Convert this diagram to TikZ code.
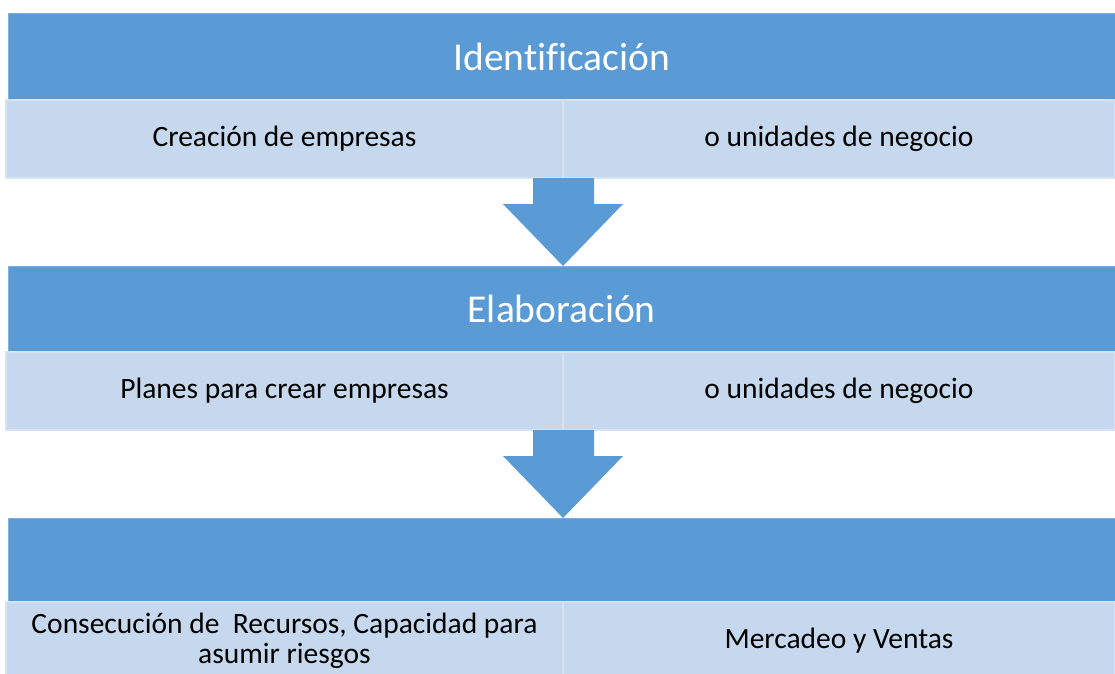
\documentclass[tikz,border=0pt]{standalone}
\usepackage{fontspec}
\setmainfont{Carlito}[Ligatures=CommonOff]
\usepackage{tikz}
\usetikzlibrary{calc}
\definecolor{headblue}{HTML}{5B9BD5}
\definecolor{rowblue}{HTML}{C5D8EE}
\definecolor{rowline}{HTML}{D6E3F3}

\tikzset{
  header/.style={fill=headblue, draw=headblue!80!white, line width=0.6pt, inner sep=0pt, outer sep=0pt,
    anchor=north west, minimum width=1106.5pt, minimum height=86.5pt, text=white,
    font=\fontsize{39.5}{46}\selectfont},
  cell/.style={fill=rowblue, draw=rowline, line width=1.2pt, inner sep=0pt, outer sep=0pt,
    anchor=north west, minimum height=78pt, align=center,
    font=\fontsize{29.5}{30}\selectfont},
  arrowfill/.style={fill=headblue}
}

% down arrow below a row, tip on the next header
\newcommand{\flecha}[2]{%
  \path[arrowfill] ([xshift=-30pt]#1) -- ([xshift=31pt]#1)
    -- ([xshift=31pt,yshift=-26pt]#1) -- ([xshift=60pt,yshift=-26pt]#1)
    -- (#2 -| #1) -- ([xshift=-60pt,yshift=-26pt]#1)
    -- ([xshift=-30pt,yshift=-26pt]#1) -- cycle;}

\begin{document}
\begin{tikzpicture}[x=1pt, y=-1pt]

        \useasboundingbox (0,0) rectangle (1115,673);
        \clip (0,0) rectangle (1115,673);

        % Identificacion
        \node[header] (h1) at (8.5,13.5) {Identificación};
        \node[cell, minimum width=557pt] (c1a) at (6,100) {Creación de empresas};
        \node[cell, minimum width=552pt] (c1b) at (563,100) {o unidades de negocio};

        % Elaboracion
        \node[header] (h2) at (8.5,266) {Elaboración};
        \node[cell, minimum width=557pt] (c2a) at (6,352) {Planes para crear empresas};
        \node[cell, minimum width=552pt] (c2b) at (563,352) {o unidades de negocio};

        % Third step
        \node[header] (h3) at (8.5,518) {};
        \node[cell, minimum width=557pt] (c3a) at (6,602)
          {Consecución de~ Recursos, Capacidad para\\asumir riesgos};
        \node[cell, minimum width=552pt] (c3b) at (563,602) {Mercadeo y Ventas};

        % Arrows
        \flecha{c1a.south east}{h2.north}
        \flecha{c2a.south east}{h3.north}

\end{tikzpicture}
\end{document}
